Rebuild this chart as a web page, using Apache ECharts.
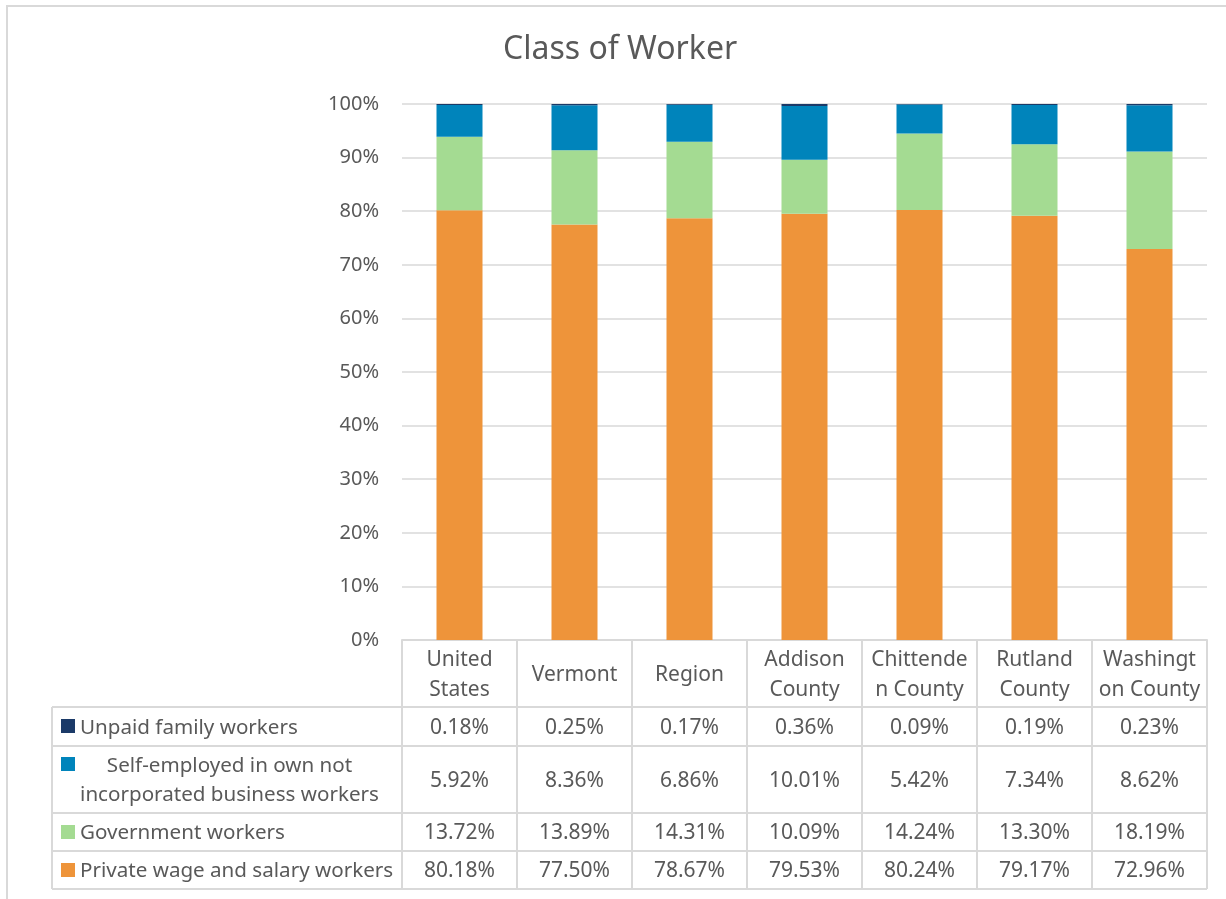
<!DOCTYPE html>
<html>
<head>
<meta charset="utf-8">
<script src="https://cdn.jsdelivr.net/npm/echarts@6/dist/echarts.min.js"></script>
<style>
html,body{margin:0;padding:0;background:#fff;}
#chart{width:1226px;height:899px;}
</style>
</head>
<body>
<div id="chart"></div>
<script>
// ---- data ----
const categories = ['United States','Vermont','Region','Addison County','Chittenden County','Rutland County','Washington County'];
const tickLabels = ['United\nStates','Vermont','Region','Addison\nCounty','Chittende\nn County','Rutland\nCounty','Washingt\non County'];
const unpaid = [0.18,0.25,0.17,0.36,0.09,0.19,0.23];
const selfEmployed = [5.92,8.36,6.86,10.01,5.42,7.34,8.62];
const government = [13.72,13.89,14.31,10.09,14.24,13.30,18.19];
const privateWage = [80.18,77.50,78.67,79.53,80.24,79.17,72.96];
const yTicks = [0,10,20,30,40,50,60,70,80,90,100];

const seriesNames = ['Unpaid family workers','Self-employed in own not\nincorporated business workers','Government workers','Private wage and salary workers'];
const seriesColors = ['#1B3A68','#0084BB','#A4DB92','#EE943A'];

// ---- layout ----
const FONT = 'Noto Sans';
const TXT = '#595959';
const LINE = '#d9d9d9';
const TFS = 21;
const LFS = 20.6;
const gridTopPx = 104, gridBottomPx = 640, gridLeftPx = 402, gridRightPx = 1207;
const rowEdges = [640, 707, 746, 813, 851, 889];
const tableLeft = 52;
const textDy = 1.5;

const chart = echarts.init(document.getElementById('chart'), null, {renderer:'canvas'});

const stackOrder = [
  {name: seriesNames[3], data: privateWage, color: seriesColors[3]},
  {name: seriesNames[2], data: government, color: seriesColors[2]},
  {name: seriesNames[1], data: selfEmployed, color: seriesColors[1]},
  {name: seriesNames[0], data: unpaid, color: seriesColors[0]}
];

chart.setOption({
  animation: false,
  backgroundColor: '#fff',
  title: {
    text: 'Class of Worker',
    left: 498, top: 29,
    textStyle: {fontFamily: FONT, fontSize: 32, fontWeight: 'normal', color: TXT}
  },
  grid: {left: gridLeftPx, right: 1226 - gridRightPx, top: gridTopPx, bottom: 899 - gridBottomPx, containLabel: false},
  xAxis: {
    type: 'category',
    data: categories,
    axisLine: {show: true, lineStyle: {color: LINE, width: 2}},
    axisTick: {show: false},
    axisLabel: {
      interval: 0,
      margin: 35,
      verticalAlign: 'middle',
      formatter: (v, i) => tickLabels[i],
      fontFamily: FONT, fontSize: TFS, lineHeight: 30, color: TXT
    }
  },
  yAxis: {
    type: 'value',
    min: yTicks[0], max: yTicks[yTicks.length-1], interval: 10,
    axisLine: {show: false},
    axisTick: {show: false},
    splitLine: {lineStyle: {color: LINE, width: 1.5}},
    axisLabel: {formatter: '{value}%', margin: 23, fontFamily: FONT, fontSize: 20, color: TXT}
  },
  series: stackOrder.map(s => ({
    name: s.name,
    type: 'bar',
    stack: 'total',
    barWidth: 46,
    data: s.data,
    itemStyle: {color: s.color}
  }))
});

// ---- data table drawn with graphic elements ----
function buildTable() {
  const centers = categories.map(c => chart.convertToPixel({xAxisIndex: 0}, c));
  const band = centers.length > 1 ? centers[1] - centers[0] : 115;
  const edges = centers.map(c => c - band/2).concat([centers[centers.length-1] + band/2]);
  const els = [];
  els.push({type:'rect', shape:{x:7, y:6, width:1400, height:1100}, style:{fill:'none', stroke:LINE, lineWidth:2}, silent:true, z:0});
  for (let r = 1; r < rowEdges.length; r++) {
    els.push({type:'line', shape:{x1:tableLeft, y1:rowEdges[r], x2:edges[edges.length-1], y2:rowEdges[r]}, style:{stroke:LINE, lineWidth:2}, z:10});
  }
  els.push({type:'line', shape:{x1:tableLeft, y1:rowEdges[1], x2:tableLeft, y2:rowEdges[rowEdges.length-1]}, style:{stroke:LINE, lineWidth:2}, z:10});
  edges.forEach(x => {
    els.push({type:'line', shape:{x1:x, y1:rowEdges[0], x2:x, y2:rowEdges[rowEdges.length-1]}, style:{stroke:LINE, lineWidth:2}, z:10});
  });
  const rowsData = [unpaid, selfEmployed, government, privateWage];
  const keyCenters = [726, 764, 832, 870];
  rowsData.forEach((arr, r) => {
    const yc = (rowEdges[r+1] + rowEdges[r+2]) / 2 + textDy;
    els.push({type:'rect', shape:{x:61, y:keyCenters[r]-7, width:14, height:14}, style:{fill:seriesColors[r]}, z:11});
    if (r === 1) {
      els.push({type:'text', x:229.5, y:yc, style:{text:seriesNames[r], fontFamily:FONT, fontSize:LFS, lineHeight:29, fill:TXT, align:'center', verticalAlign:'middle'}, z:11});
    } else {
      els.push({type:'text', x:80, y:yc, style:{text:seriesNames[r], fontFamily:FONT, fontSize:LFS, fill:TXT, align:'left', verticalAlign:'middle'}, z:11});
    }
    arr.forEach((v, i) => {
      els.push({type:'text', x:centers[i], y:yc, style:{text:v.toFixed(2)+'%', fontFamily:FONT, fontSize:TFS, fill:TXT, align:'center', verticalAlign:'middle'}, z:11});
    });
  });
  chart.setOption({graphic: {elements: els}});
}
buildTable();
</script>
</body>
</html>
